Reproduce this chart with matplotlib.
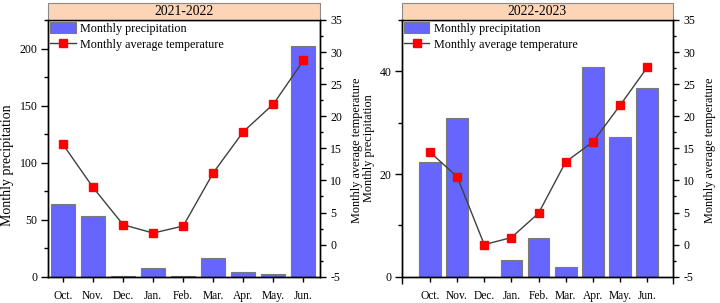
import matplotlib
matplotlib.use("Agg")
import matplotlib.pyplot as plt
from matplotlib.patches import Rectangle, Patch
from matplotlib.lines import Line2D
from matplotlib.ticker import MultipleLocator, FixedLocator

plt.rcParams['font.family'] = ['Liberation Serif', 'DejaVu Serif']
plt.rcParams['font.size'] = 9

months = ["Oct.", "Nov.", "Dec.", "Jan.", "Feb.", "Mar.", "Apr.", "May.", "Jun."]
precip_2122 = [64, 53, 1, 7.6, 0.5, 16.7, 4.1, 2.0, 202]
temp_2122 = [15.6, 8.9, 3.1, 1.8, 2.9, 11.2, 17.6, 21.9, 28.7]
precip_2223 = [22.4, 31.0, 0, 3.3, 7.6, 1.8, 40.9, 27.3, 36.8]
temp_2223 = [14.4, 10.6, 0.0, 1.1, 4.9, 12.9, 16.0, 21.7, 27.6]
titles = ["2021-2022", "2022-2023"]
temp_ticks = [-5, 0, 5, 10, 15, 20, 25, 30, 35]

bar_color = "#6666ff"
bar_edge = "#7a7a7a"
title_bg = "#fbd5b5"
line_color = "#404040"

W, H = 720, 303
fig = plt.figure(figsize=(7.2, 3.03), dpi=100)

def px_axes(x0, x1, ytop, ybot):
    return [x0 / W, 1 - ybot / H, (x1 - x0) / W, (ybot - ytop) / H]

ax1 = fig.add_axes(px_axes(48, 320, 20, 276.7))
ax2 = fig.add_axes(px_axes(401.7, 673, 20, 276.7))

configs = [
    (ax1, precip_2122, temp_2122, titles[0], (0, 225), 50, 25, (-0.5, 8.55), False),
    (ax2, precip_2223, temp_2223, titles[1], (0, 50), 20, 10, (-1.04, 8.95), True),
]

x = list(range(len(months)))
for ax, pr, tp, title, ylim, major, minor, xlim, edge_ticks in configs:
    ax.bar(x, pr, width=0.8, color=bar_color, edgecolor=bar_edge, linewidth=0.8, zorder=2)
    ax.set_ylim(*ylim)
    ax.set_xlim(*xlim)
    ax.yaxis.set_major_locator(MultipleLocator(major))
    ax.yaxis.set_minor_locator(MultipleLocator(minor))
    ax.set_xticks(x)
    ax.set_xticklabels(months, fontsize=8.3)
    ax.tick_params(axis='x', which='major', length=3.6, width=1, pad=6)
    if edge_ticks:
        ax.xaxis.set_minor_locator(FixedLocator([xlim[0], xlim[1]]))
        ax.tick_params(axis='x', which='minor', length=5, width=1)
    else:
        ax.xaxis.set_minor_locator(FixedLocator([]))
    ax.tick_params(axis='y', which='major', length=5, width=1, pad=2.5, labelsize=8.5)
    ax.tick_params(axis='y', which='minor', length=3, width=1)
    for s in ax.spines.values():
        s.set_linewidth(1.0)

    ax_r = ax.twinx()
    ax_r.plot(x, tp, color=line_color, linewidth=1.0, marker='s', markersize=6,
              markerfacecolor='red', markeredgecolor='red', zorder=3)
    ax_r.set_ylim(-5, 35)
    ax_r.set_yticks(temp_ticks)
    ax_r.set_yticklabels([str(t) for t in temp_ticks])
    ax_r.yaxis.set_minor_locator(MultipleLocator(2.5))
    ax_r.tick_params(axis='y', which='major', length=4.5, width=1, pad=3, labelsize=8.5)
    ax_r.tick_params(axis='y', which='minor', length=2.5, width=1)
    for s in ax_r.spines.values():
        s.set_linewidth(1.0)

    # title box
    h = 17 / 256.7
    ax.add_patch(Rectangle((0, 1), 1, h, transform=ax.transAxes, facecolor=title_bg,
                           edgecolor="#8a8a8a", linewidth=0.8, clip_on=False, zorder=5))
    ax.text(0.5, 1 + h / 2, title, transform=ax.transAxes, ha='center', va='center',
            fontsize=9.8, zorder=6)

    handles = [Patch(facecolor=bar_color, edgecolor=bar_edge, linewidth=0.8),
               Line2D([0], [0], color=line_color, linewidth=1.0, marker='s', markersize=6,
                      markerfacecolor='red', markeredgecolor='red')]
    ax_r.legend(handles, ["Monthly precipitation", "Monthly average temperature"],
                loc='upper left', frameon=False, borderaxespad=0.05, borderpad=0.1,
                handlelength=2.15, handleheight=1.1, handletextpad=0.35,
                labelspacing=0.3, fontsize=8.7)

# axis titles
fig.text(8 / W, 1 - 165 / H, "Monthly precipitation", rotation=90,
         ha='center', va='center', fontsize=10)
fig.text(357 / W, 1 - 150 / H, "Monthly average temperature", rotation=90,
         ha='center', va='center', fontsize=8.8)
fig.text(369 / W, 1 - 148 / H, "Monthly precipitation", rotation=90,
         ha='center', va='center', fontsize=8.8)
fig.text(710 / W, 1 - 150 / H, "Monthly average temperature", rotation=90,
         ha='center', va='center', fontsize=8.8)

fig.savefig("out.png", dpi=100)
